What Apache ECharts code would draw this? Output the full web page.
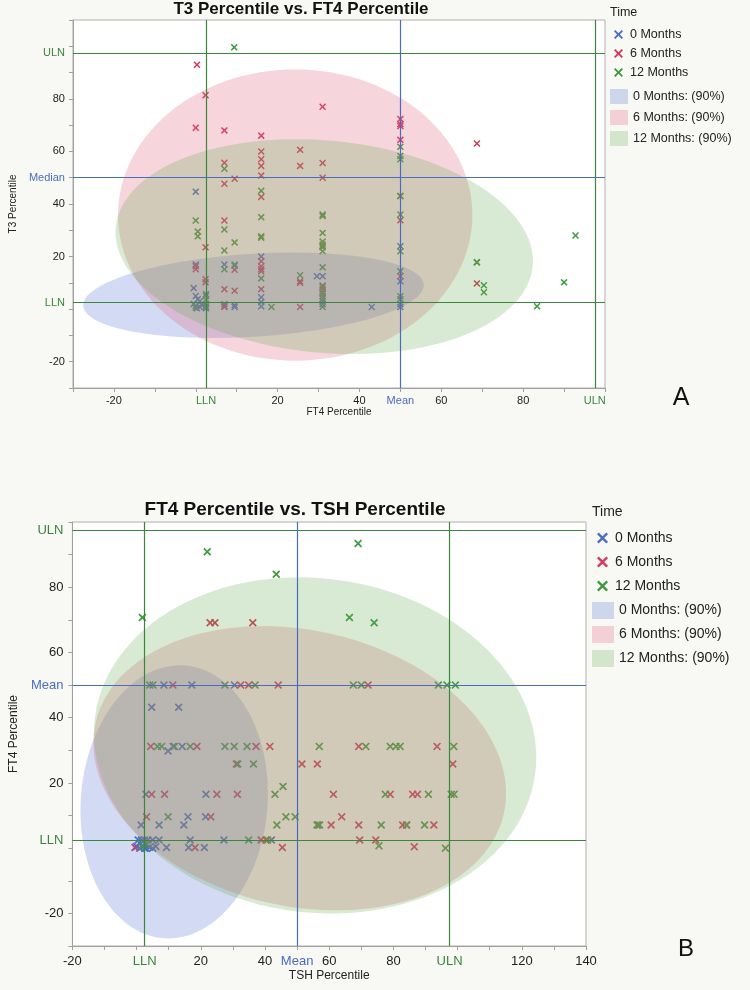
<!DOCTYPE html>
<html>
<head>
<meta charset="utf-8">
<script src="https://cdn.jsdelivr.net/npm/echarts@6/dist/echarts.min.js"></script>
<style>
html,body{margin:0;padding:0;background:#f8f8f5;}
#c{width:750px;height:990px;}
</style>
</head>
<body>
<div id="c"></div>
<script>
// ---------------- DATA ----------------
const seriesNames = ['0 Months', '6 Months', '12 Months'];
const ellipseNames = ['0 Months: (90%)', '6 Months: (90%)', '12 Months: (90%)'];

// Chart A: T3 percentile (y) vs FT4 percentile (x)
const a0Months = [[0,44.7],[0,17],[-0.5,8],[0,5],[0.5,3.8],[1,3],[-0.5,2],[0,1.2],[1,0.8],[0.3,0.3],[1.5,1.5],[2.5,5.7],[2.5,2],[2.5,1],[2.5,0.3],[7,17],[7,1.9],[7,1.1],[9.5,16.5],[9.5,1.5],[9.5,0.8],[16,20],[16,4.5],[16,2.7],[16,1.1],[29.6,12.5],[31,12.5],[31,3],[31,1.9],[43,0.8],[50,23.9],[50,10.6],[50,1.9],[50,0.8]];
const a6Months = [[0.3,93],[2.4,81.4],[31,77],[0,69],[7,68],[16,66],[16,60],[25.5,60.6],[7,55.7],[16,57],[16,54.5],[25.5,54.5],[31,55.6],[31,50],[16,50.8],[9.5,49.6],[7,47.7],[16,42.7],[50,72.3],[50,70.4],[50,69.7],[50,64.4],[68.7,63],[50,43],[7,33.7],[2.4,23.5],[31,23.9],[0,16.3],[0,15.2],[2.4,11.4],[2.4,10.2],[9.5,15],[16,18.2],[16,16.3],[16,15.2],[16,14.4],[16,7.6],[25.5,10.6],[25.5,10],[31,9],[31,7.6],[31,6],[7,7.6],[9.5,7],[7,0.8],[25.5,0.8],[50,33.8],[50,12.5],[68.7,17.8],[68.7,9.8]];
const a12Months = [[9.4,99.6],[7,53.4],[16,45],[50,61.8],[50,58.3],[50,57],[50,43],[0,33.7],[0.5,29.5],[0.5,27.7],[7,30.3],[9.5,25.4],[7,22.3],[16,35],[16,27.7],[16,27.2],[31,36],[31,35.4],[31,29],[31,25.7],[31,24.6],[31,23.5],[31,22],[7,15.2],[9.5,17],[16,11.7],[25.5,12.9],[31,15.9],[31,8.5],[31,6.5],[31,5],[31,4],[31,0.8],[18.5,0.8],[50,36],[50,22],[50,14.4],[50,4.9],[50,3.8],[68.7,17.8],[70.4,9.1],[70.4,6.4],[83.4,1.1],[90,10.2],[92.8,28],[2.5,5],[2.5,3.5],[2.5,1],[0,0.5]];
// 90% density ellipses: [centerX, centerY, semiAxis1X, semiAxis1Y, semiAxis2X, semiAxis2Y] in data units
const aEllipse0 = [14.1, 5.3, 41.6, 3.8, 0, 15.8];
const aEllipse6 = [24.3, 35.8, 43.3, 0, 0, 55.4];
const aEllipse12 = [31.4, 23.8, 51.0, -5.5, 0, 40.5];

const aXTickValues = [-20, 2.5, 20, 40, 50, 60, 80, 97.5];
const aXTickText   = ['-20', 'LLN', '20', '40', 'Mean', '60', '80', 'ULN'];
const aYTickValues = [-20, 2.5, 20, 40, 50, 60, 80, 97.5];
const aYTickText   = ['-20', 'LLN', '20', '40', 'Median', '60', '80', 'ULN'];
const aRefX = [2.5, 50, 97.5];
const aRefY = [2.5, 50, 97.5];

// Chart B: FT4 percentile (y) vs TSH percentile (x)
const b0Months = [[8.5,50],[17.2,50],[30.5,50],[4.7,43.2],[13.1,43.2],[9.8,29.8],[11.4,31.2],[14.2,31.2],[2.9,16.5],[21.6,16.5],[16,9.6],[21.5,9.6],[1.4,7.1],[7,7.1],[14.7,7.1],[0.5,2.5],[1.5,2.5],[2.5,2.5],[3.5,2.5],[5,2.5],[7,2.5],[16.7,2.5],[27.2,2.5],[42,2.5],[0,0.5],[1,0],[2,0.5],[2.5,0],[3,0],[4,0.3],[5,0],[6,0.5],[9.3,0.2],[16.2,0.2],[21.1,0.2]];
const b6Months = [[22.9,69.1],[24.4,69.1],[36.2,69.1],[11.3,50],[32.4,50],[34.9,50],[44.1,50],[72.1,50],[4.4,31.2],[18.8,31.2],[37.2,31.2],[41.5,31.2],[69.2,31.2],[93.6,31.2],[31.1,25.8],[51.5,25.8],[56.3,25.8],[98.5,25.8],[4.7,16.5],[8.7,16.5],[25,16.5],[31.4,16.5],[61.3,16.5],[79,16.5],[86,16.5],[87.5,16.5],[3.1,9.6],[23.1,9.6],[63.9,9.6],[56.5,7.1],[60.6,7.1],[69.2,7.1],[82.9,7.1],[84.1,7.1],[92.6,7.1],[38.8,2.5],[40.3,2.5],[69.5,2.5],[74.5,2.5],[-0.5,0.2],[3,1.2],[18.2,0.2],[45.4,0.2],[86.5,0.4]];
const b12Months = [[22,90.9],[43.5,84],[1.8,70.7],[69,93.4],[66.3,70.7],[74,69.1],[4.1,50],[5.1,50],[27.5,50],[36.9,50],[67.5,50],[70,50],[94,50],[96.7,50],[99.3,50],[6.5,31.2],[7.8,31.2],[11.8,31.2],[16.7,31.2],[27.5,31.2],[30.4,31.2],[34.4,31.2],[56.9,31.2],[71.4,31.2],[79,31.2],[80.8,31.2],[82.1,31.2],[98.8,31.2],[31.5,25.8],[36.4,25.8],[43.1,16.5],[45.6,18.9],[77.5,16.5],[90.9,16.5],[98,16.5],[98.9,16.5],[9.8,9.6],[46.5,9.6],[49.4,9.6],[43.7,7.1],[56.2,7.1],[57,7.1],[76.2,7.1],[84.1,7.1],[89.7,7.1],[34.9,2.5],[40.8,2.5],[75.5,0.7],[96.2,0],[1.5,0.5],[3,1]];
const bEllipse0 = [11.7, 14.2, 29.2, 2.6, 0, 41.8];
const bEllipse6 = [50.8, 24.5, 64.3, -7.7, 0, 42.9];
const bEllipse12 = [55.6, 31.5, 68.9, -3.7, 0, 51.4];

const bXTickValues = [-20, 2.5, 20, 40, 50, 60, 80, 97.5, 120, 140];
const bXTickText   = ['-20', 'LLN', '20', '40', 'Mean', '60', '80', 'ULN', '120', '140'];
const bYTickValues = [-20, 2.5, 20, 40, 50, 60, 80, 97.5];
const bYTickText   = ['-20', 'LLN', '20', '40', 'Mean', '60', '80', 'ULN'];
const bRefX = [2.5, 50, 97.5];
const bRefY = [2.5, 50, 97.5];

// ---------------- STYLE ----------------
const FONT = 'Liberation Sans, Arial, Helvetica, sans-serif';
const GREEN_REF = '#3a863a';
const BLUE_REF = '#4a6cc0';
const markerColors = ['#4a6cc4', '#d6385a', '#3f9a3f'];
const ellipseColors = ['rgba(80,115,210,0.26)', 'rgba(225,100,125,0.27)', 'rgba(100,170,80,0.25)'];
const XPATH = 'path://M0,1.5L1.5,0L5,3.5L8.5,0L10,1.5L6.5,5L10,8.5L8.5,10L5,6.5L1.5,10L0,8.5L3.5,5Z';

function refColor(v) { return v === 50 ? BLUE_REF : GREEN_REF; }
function tickStyleName(t) {
  if (t === 'LLN' || t === 'ULN') return 'g';
  if (t === 'Mean' || t === 'Median') return 'b';
  return 'n';
}
function makeAxis(gridIndex, min, max, values, texts, fontSize, margin, name, nameGap, nameSize) {
  const tickVals = [];
  for (let v = Math.ceil(min / 10) * 10; v <= max; v += 10) tickVals.push(v);
  return {
    type: 'value', gridIndex: gridIndex, min: min, max: max,
    name: name, nameLocation: 'middle', nameGap: nameGap,
    nameTextStyle: { fontFamily: FONT, fontSize: nameSize, color: '#222' },
    axisLine: { show: true, onZero: false, lineStyle: { color: '#a0a0a0', width: 1 } },
    axisTick: { show: true, customValues: tickVals, length: 4, lineStyle: { color: '#a0a0a0' } },
    splitLine: { show: false },
    axisLabel: {
      customValues: values, margin: margin,
      fontFamily: FONT, fontSize: fontSize, color: '#222',
      formatter: function (v) {
        const i = values.indexOf(v);
        const t = i >= 0 ? texts[i] : '';
        return '{' + tickStyleName(t) + '|' + t + '}';
      },
      rich: {
        n: { color: '#222', fontFamily: FONT, fontSize: fontSize },
        g: { color: GREEN_REF, fontFamily: FONT, fontSize: fontSize },
        b: { color: BLUE_REF, fontFamily: FONT, fontSize: fontSize }
      }
    }
  };
}

function ellipseRender(params, api) {
  const cx = api.value(0), cy = api.value(1), ux = api.value(2), uy = api.value(3), vx = api.value(4), vy = api.value(5);
  const pts = [];
  const N = 120;
  for (let i = 0; i < N; i++) {
    const t = 2 * Math.PI * i / N;
    pts.push(api.coord([cx + ux * Math.cos(t) + vx * Math.sin(t), cy + uy * Math.cos(t) + vy * Math.sin(t)]));
  }
  return { type: 'polygon', shape: { points: pts }, style: { fill: api.visual('color') } };
}

function buildSeries(idx, pointsList, ellipses, refX, refY, size) {
  const out = [];
  pointsList.forEach(function (pts, i) {
    out.push({
      name: seriesNames[i], type: 'scatter', xAxisIndex: idx, yAxisIndex: idx,
      data: pts, symbol: XPATH, symbolSize: size, z: 2,
      itemStyle: { color: markerColors[i], opacity: 1 },
      emphasis: { disabled: true }, animation: false
    });
  });
  ellipses.forEach(function (e, i) {
    out.push({
      name: ellipseNames[i], type: 'custom', xAxisIndex: idx, yAxisIndex: idx,
      data: [e], encode: { x: 0, y: 1 }, renderItem: ellipseRender, z: 3,
      itemStyle: { color: ellipseColors[i] }, silent: true, animation: false
    });
  });
  const ml = [];
  refX.forEach(function (v) { ml.push({ xAxis: v, lineStyle: { color: refColor(v), width: 1.2, type: 'solid', opacity: 1 } }); });
  refY.forEach(function (v) { ml.push({ yAxis: v, lineStyle: { color: refColor(v), width: 1.2, type: 'solid', opacity: 1 } }); });
  out.push({
    type: 'scatter', xAxisIndex: idx, yAxisIndex: idx, data: [], z: 4, silent: true,
    markLine: { symbol: ['none', 'none'], silent: true, animation: false, label: { show: false },
      emphasis: { disabled: true }, lineStyle: { opacity: 1 }, data: ml }
  });
  return out;
}

function legends(leftX, topX, xSize, xGap, leftR, topR, rW, rH, rGap, fontSize) {
  return [
    {
      orient: 'vertical', left: leftX, top: topX, itemWidth: xSize, itemHeight: xSize, itemGap: xGap,
      padding: 0, selectedMode: false,
      textStyle: { fontFamily: FONT, fontSize: fontSize, color: '#222', padding: [0, 0, 0, 2] },
      data: seriesNames.map(function (n, i) { return { name: n, icon: XPATH, itemStyle: { color: markerColors[i] } }; })
    },
    {
      orient: 'vertical', left: leftR, top: topR, itemWidth: rW, itemHeight: rH, itemGap: rGap,
      padding: 0, selectedMode: false,
      textStyle: { fontFamily: FONT, fontSize: fontSize, color: '#222' },
      data: ellipseNames.map(function (n, i) { return { name: n, icon: 'rect', itemStyle: { color: ellipseColors[i] } }; })
    }
  ];
}

const chart = echarts.init(document.getElementById('c'), null, { renderer: 'canvas' });
const option = {
  backgroundColor: '#f8f8f5',
  animation: false,
  title: [
    { text: 'T3 Percentile vs. FT4 Percentile', left: 301, top: 1, textAlign: 'center', padding: 0,
      textStyle: { fontFamily: FONT, fontSize: 17, fontWeight: 'bold', color: '#111' } },
    { text: 'Time', left: 610, top: 6, padding: 0, textStyle: { fontFamily: FONT, fontSize: 12.5, fontWeight: 'normal', color: '#222' } },
    { text: 'A', left: 681, top: 386, textAlign: 'center', padding: 0, textStyle: { fontFamily: FONT, fontSize: 25, fontWeight: 'normal', color: '#111' } },
    { text: 'FT4 Percentile vs. TSH Percentile', left: 295, top: 500, textAlign: 'center', padding: 0,
      textStyle: { fontFamily: FONT, fontSize: 19, fontWeight: 'bold', color: '#111' } },
    { text: 'Time', left: 592, top: 505, padding: 0, textStyle: { fontFamily: FONT, fontSize: 14, fontWeight: 'normal', color: '#222' } },
    { text: 'B', left: 686, top: 937, textAlign: 'center', padding: 0, textStyle: { fontFamily: FONT, fontSize: 24, fontWeight: 'normal', color: '#111' } }
  ],
  legend: legends(614, 28, 9, 6, 610, 89, 18, 15, 6, 12.5)
    .concat(legends(597, 531, 11, 10, 592, 602, 22, 17, 7, 14)),
  grid: [
    { left: 65, top: 20, width: 540, height: 368, show: true, backgroundColor: '#ffffff', borderColor: '#b0b0b0', borderWidth: 1 },
    { left: 69, top: 522, width: 517, height: 424, show: true, backgroundColor: '#ffffff', borderColor: '#b0b0b0', borderWidth: 1 }
  ],
  xAxis: [
    makeAxis(0, -30, 100, aXTickValues, aXTickText, 11, 7, 'FT4 Percentile', 19, 10),
    makeAxis(1, -20, 140, bXTickValues, bXTickText, 13, 9, 'TSH Percentile', 24, 12)
  ],
  yAxis: [
    makeAxis(0, -30, 110, aYTickValues, aYTickText, 11, 8, 'T3 Percentile', 47, 10),
    makeAxis(1, -30, 100, bYTickValues, bYTickText, 13, 9, 'FT4 Percentile', 50, 12)
  ],
  series: buildSeries(0, [a0Months, a6Months, a12Months], [aEllipse0, aEllipse6, aEllipse12], aRefX, aRefY, 7)
    .concat(buildSeries(1, [b0Months, b6Months, b12Months], [bEllipse0, bEllipse6, bEllipse12], bRefX, bRefY, 8))
};
chart.setOption(option);
</script>
</body>
</html>
